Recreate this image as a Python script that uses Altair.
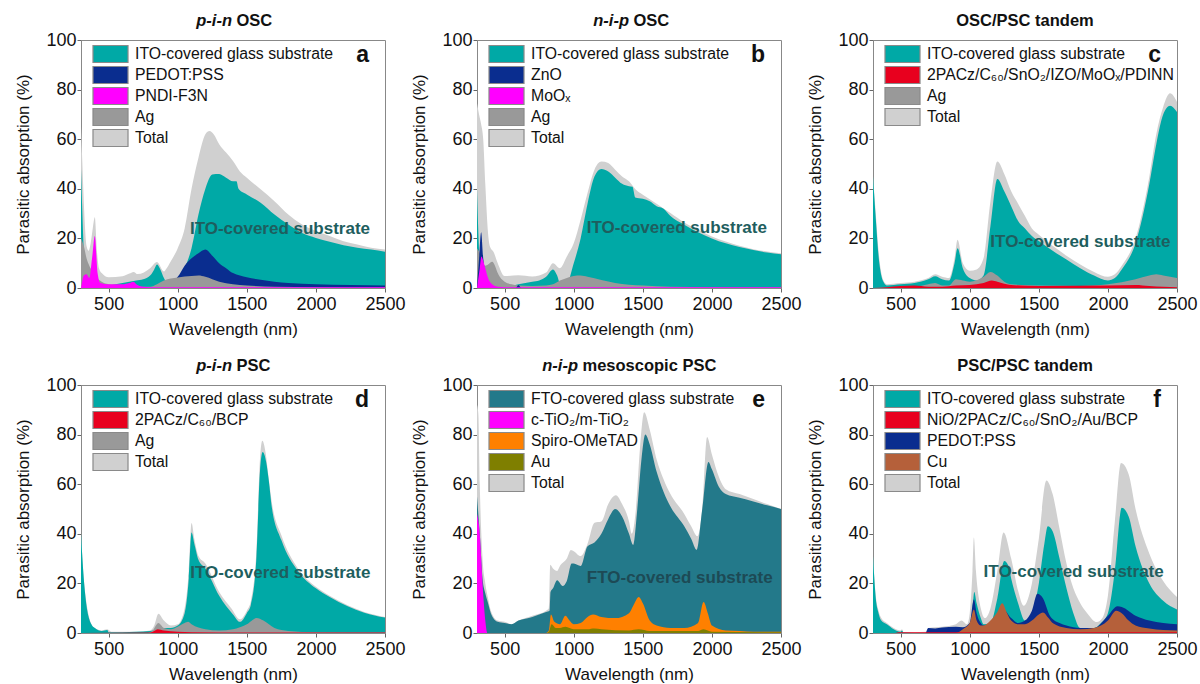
import altair as alt
import pandas as pd

FONT = "Liberation Sans"

# ---------------- data (wavelength nm, parasitic absorption %) ----------------
a_total = [(300,65),(310,50),(320,35),(340,17),(355,15),(370,18),(385,24),(400,28.5),(415,15),(430,8),(450,6),(500,4.3),(600,4.7),(650,5.8),(680,6.5),(710,5.6),(800,8),(850,10.5),(900,6.7),(920,8),(950,10.8),(1000,16),(1050,24),(1100,40),(1150,52.5),(1200,62),(1230,63.3),(1260,62),(1300,58),(1350,54.6),(1400,51.2),(1450,47),(1500,44.5),(1600,39.8),(1700,35),(1800,29.6),(1900,25.6),(2000,23),(2100,21),(2200,18.9),(2300,17.5),(2400,16.2),(2500,15.5)]
a_ito = [(300,48),(310,30),(320,15),(340,3),(360,1),(400,0.5),(500,1),(600,2),(700,3),(750,3.5),(800,5),(830,7.5),(850,9.5),(870,8),(900,4),(930,1.5),(960,1.5),(1000,3),(1050,8),(1100,16),(1150,29.6),(1200,40),(1250,45.8),(1300,46),(1350,44.5),(1400,43),(1425,43),(1440,40),(1500,37.7),(1600,34.4),(1700,29.6),(1800,25.6),(1900,22.2),(2000,20.2),(2100,18.6),(2200,17.2),(2300,16.2),(2400,15.5),(2500,14.6)]
a_pedot = [(300,0),(900,0),(930,1),(950,2),(1000,4.5),(1050,9),(1100,12),(1150,14),(1200,15.5),(1250,13),(1300,10),(1350,8),(1400,6),(1450,5),(1500,4.3),(1600,3.3),(1700,2.5),(1800,2),(2000,1.5),(2500,1.0)]
a_pndi = [(300,0),(310,3),(320,5),(340,5.5),(360,4),(380,12),(400,21),(420,6),(440,2),(500,1.5),(600,1.5),(650,2),(680,2.5),(700,1.5),(750,0.5),(800,0.3),(2500,0.3)]
a_ag = [(300,20),(320,17),(340,12),(360,9),(380,7),(400,5),(450,2.5),(500,1.5),(600,1),(700,0.5),(800,0.5),(850,1.5),(900,3),(1000,4.2),(1100,4.8),(1150,5),(1200,4.5),(1300,2.5),(1400,1.5),(1500,1),(1700,0.5),(2000,0.3),(2500,0.2)]

b_total = [(300,74.5),(315,70),(330,66),(345,60),(360,42),(380,22),(395,16.5),(420,14.5),(450,10),(500,4.8),(600,5.1),(700,4.6),(800,6.2),(850,10),(900,8),(950,12.7),(1000,18),(1050,27.5),(1100,38.3),(1150,47.7),(1200,51),(1250,50.4),(1300,47.7),(1350,45),(1400,43),(1450,39.6),(1500,37.6),(1600,34),(1700,30.2),(1800,26.4),(1900,23.5),(2000,20.8),(2100,18.7),(2200,17),(2300,15.6),(2400,14.7),(2500,14)]
b_ito = [(300,40),(310,22),(320,10),(340,2),(400,0.5),(500,0.5),(600,1.5),(700,2.5),(750,3),(800,4.5),(850,7.5),(880,5),(900,2),(950,2),(1000,10),(1050,20),(1100,34),(1150,45),(1200,48),(1250,47),(1300,44.5),(1350,42),(1400,41),(1425,40.8),(1445,36.5),(1500,36),(1550,35),(1600,33),(1650,32),(1700,29),(1800,25.5),(1900,22.5),(2000,20),(2100,18),(2200,16.5),(2300,15.3),(2400,14.3),(2500,13.6)]
b_zno = [(300,0),(315,12),(330,22.5),(345,12),(360,6),(380,2),(400,0.5),(450,0),(580,0),(600,1.2),(620,0),(2500,0)]
b_moox = [(300,0),(320,8),(332,12.7),(345,11),(360,8),(380,4),(400,2),(450,0.5),(500,0.3),(2500,0.3)]
b_ag = [(300,16),(320,14),(340,10),(360,9),(380,9.5),(410,10.6),(430,9),(450,6),(500,2.5),(550,1.5),(600,1),(700,0.8),(800,1),(850,1.5),(900,3),(950,4),(1000,4.8),(1050,5),(1100,4.5),(1200,3.2),(1300,2),(1400,1.3),(1500,1),(1700,0.5),(2000,0.3),(2500,0.2)]

c_total = [(300,45),(320,30),(340,15),(360,6),(380,2.5),(400,1.5),(500,2),(600,2.5),(700,4),(750,5.5),(800,4.5),(850,4),(890,12),(912,19.5),(950,10),(1000,7),(1050,7.5),(1100,12),(1150,35),(1200,51),(1250,46),(1300,39),(1350,34),(1400,29),(1450,24),(1500,21.5),(1600,17),(1700,13),(1800,9.5),(1900,6.5),(2000,4.5),(2050,5.5),(2100,9),(2200,20),(2300,45),(2350,62),(2400,73),(2450,78.5),(2500,75)]
c_ito = [(300,45),(320,28),(340,13),(360,5),(380,2),(400,1),(500,1.5),(600,2),(700,3.5),(750,4.7),(800,3.5),(850,3),(890,10),(912,16),(950,8),(1000,4),(1050,3),(1100,5),(1150,25),(1200,44),(1250,39),(1300,33),(1350,27),(1400,24),(1450,21),(1500,19),(1600,15),(1700,11.5),(1800,8),(1900,5),(2000,3),(2050,4),(2100,7.5),(2200,18),(2300,42),(2350,58),(2400,70),(2450,73.5),(2500,71)]
c_red = [(300,0),(400,0.3),(500,0.8),(600,1),(700,0.5),(800,0.5),(900,1),(1000,1.2),(1100,2),(1160,3),(1200,2.5),(1300,1.2),(1500,0.8),(2000,1),(2200,1.2),(2300,0.8),(2400,0.5),(2500,0.3)]
c_ag = [(300,0),(600,0.5),(700,1.5),(750,2),(800,1),(850,1),(900,3.5),(950,3),(1000,2.5),(1100,4.5),(1150,6.5),(1200,5),(1250,2.5),(1300,1.5),(1500,1),(1800,0.8),(2000,1.5),(2200,3.5),(2300,5),(2350,5.5),(2400,5),(2500,4)]

d_total = [(300,40),(320,22),(340,12),(360,6),(380,3),(400,2),(450,1),(490,1.5),(520,0.5),(600,0.5),(700,0.5),(800,1),(830,3),(860,7.8),(900,5),(950,3),(1000,3.5),(1050,10),(1080,25),(1100,44.4),(1120,38),(1150,31),(1200,28),(1300,16.5),(1390,9.8),(1450,5.5),(1500,9),(1530,13),(1570,34),(1595,70),(1612,77.5),(1635,73),(1655,64),(1680,53),(1750,39.4),(1870,26),(2000,18.6),(2100,15),(2230,11.2),(2350,8.5),(2500,6.5)]
d_ito = [(300,40),(320,22),(340,11),(360,5.5),(380,3),(400,2),(450,0.8),(490,1.2),(500,0.3),(600,0.3),(700,0.5),(800,0.8),(850,1.5),(900,2),(950,2),(1000,3),(1050,8),(1080,22),(1100,40.5),(1120,36),(1150,29.5),(1200,26),(1300,15),(1400,7.5),(1450,4.5),(1500,8),(1530,11.5),(1570,31),(1595,65),(1615,73),(1640,69),(1660,61),(1680,51),(1750,37.5),(1870,25),(2000,18),(2100,14.5),(2230,10.8),(2350,8.2),(2500,6.2)]
d_red = [(300,0),(800,0.2),(830,0.8),(855,1.5),(900,1),(1000,0.5),(1100,0.3),(1500,0.2),(2500,0.2)]
d_ag = [(300,0),(780,0),(820,1),(860,4),(900,2),(950,1.5),(1000,2.5),(1050,4),(1075,4.5),(1100,3.5),(1200,1.5),(1300,1),(1400,1.5),(1500,3.5),(1570,6),(1620,5),(1700,2),(1800,0.8),(2000,0.3),(2500,0.2)]

e_total = [(300,92),(310,88),(320,60),(340,30),(360,20),(380,14),(400,9),(450,5),(500,4.5),(550,3.5),(600,5),(700,7),(800,9),(820,10),(830,27.5),(850,26),(880,25),(900,27),(950,30),(980,33.5),(1000,33),(1050,31),(1100,36),(1150,44.5),(1200,45),(1250,52),(1305,55.5),(1350,52),(1400,45),(1420,40),(1450,50),(1480,75),(1510,89),(1550,82),(1600,70),(1650,62),(1700,56),(1800,48),(1850,43),(1895,39),(1930,50),(1965,79),(2000,72),(2050,63),(2100,58),(2200,56),(2300,54),(2400,52),(2500,50)]
e_fto = [(300,55),(320,40),(340,22),(360,16),(380,12),(400,8),(450,4.5),(500,4),(550,3.5),(600,5),(700,6.5),(800,8.5),(825,9),(832,16.5),(850,18),(880,21.3),(920,19),(950,21),(985,28),(1000,28),(1050,27),(1100,35),(1150,36.5),(1200,40),(1250,46),(1300,50),(1350,47),(1400,40),(1430,35.5),(1460,50),(1490,70),(1518,80),(1550,76),(1600,65),(1650,57),(1700,51),(1800,43),(1850,38),(1890,33.5),(1930,50),(1975,69),(2000,66),(2050,59),(2100,56),(2200,54.5),(2300,53),(2400,51.5),(2500,50)]
e_tio2 = [(300,48),(320,40),(340,20),(360,5),(375,0),(2500,0)]
e_spiro = [(300,0),(800,0),(820,1),(835,7.5),(860,4.5),(900,3.5),(940,7),(970,5),(1000,3.5),(1050,4),(1100,6.5),(1140,7.5),(1200,6.5),(1300,6),(1400,8),(1440,12),(1470,14.5),(1500,12),(1550,5),(1600,3),(1700,2),(1800,2),(1900,4),(1940,12.5),(1970,8),(2000,3),(2100,1),(2200,0.8),(2300,0.5),(2500,0.5)]
e_au = [(300,0),(800,0),(820,0.5),(840,3.5),(870,2),(900,2),(940,2.5),(1000,1.5),(1100,1.5),(1150,1.8),(1200,1.5),(1400,1),(1470,1.5),(1550,0.8),(1900,0.8),(1940,1.5),(2000,0.5),(2500,0.3)]

f_total = [(300,31),(320,15),(340,9),(360,6),(400,4),(450,2),(500,1),(510,1.5),(520,0.3),(600,0.3),(680,0.5),(700,2),(800,2.5),(900,3.5),(940,5),(980,3.5),(1000,8),(1020,25),(1030,38.5),(1045,25),(1080,10),(1110,6),(1150,10),(1200,25),(1245,40.5),(1300,30),(1350,17),(1390,11),(1450,20),(1500,38),(1555,61.5),(1600,56),(1650,42),(1700,28),(1750,18),(1800,12),(1850,8),(1920,4.4),(1960,6),(2000,15),(2050,45),(2095,68.5),(2150,64),(2200,50),(2300,32),(2400,21),(2500,14.5)]
f_ito = [(300,31),(320,14),(340,8),(360,5),(400,3.5),(450,1.5),(500,0.5),(510,1),(520,0.2),(600,0),(950,0),(1000,2),(1020,10),(1033,16.5),(1050,12),(1080,6),(1100,3.5),(1150,4),(1200,14),(1250,29),(1280,27),(1300,22),(1350,12),(1400,5),(1450,8),(1500,20),(1540,36),(1565,43),(1600,41),(1650,30),(1700,18),(1750,8),(1800,2),(1900,2),(1950,4),(2000,8),(2050,25),(2100,50.5),(2150,47),(2200,35),(2300,20),(2400,13),(2500,9.5)]
f_red = [(300,0),(450,0),(500,0.3),(2500,0.3)]
f_pedot = [(300,0),(680,0),(700,2),(750,1.8),(800,2.2),(900,2.5),(950,2.3),(1000,4),(1030,13.5),(1050,8),(1080,4),(1100,3),(1200,6),(1250,9),(1300,6),(1350,4),(1400,5),(1450,9),(1490,15.8),(1530,14),(1580,7),(1650,4),(1700,3),(1800,2),(1900,2),(2000,7),(2070,10.8),(2100,10.5),(2200,7),(2300,5),(2400,4),(2500,3.5)]
f_cu = [(300,0),(900,0),(950,1.5),(1000,4),(1030,9.5),(1050,5),(1080,3),(1100,3),(1150,5),(1200,8.5),(1235,12),(1270,8),(1300,5),(1350,3.5),(1400,3.5),(1450,5),(1500,7.5),(1530,8.3),(1570,6),(1600,4),(1700,2),(1800,1.5),(1900,2),(2000,5),(2060,9),(2100,8),(2150,5),(2200,3),(2300,1.8),(2400,1.2),(2500,1)]

X_TICKS = [500, 1000, 1500, 2000, 2500]
Y_TICKS = [0, 20, 40, 60, 80, 100]

# ---------------- colours ----------------
C_ITO = "#00a9a6"
C_FTO = "#23798a"
C_PEDOT = "#0a2d8f"
C_MAG = "#ff00ff"
C_AG = "#999999"
C_TOT = "#d0d0d0"
C_RED = "#e8001e"
C_SPIRO = "#ff8000"
C_AU = "#7f7f00"
C_CU = "#b5603a"

W, H = 304, 248

XAXIS = alt.Axis(values=X_TICKS, format="d", grid=False, labelFontSize=18, titleFontSize=17,
                 titleFontWeight="normal", tickSize=4, tickColor="#666", domainColor="#888",
                 labelPadding=3, titlePadding=8, labelColor="#111", titleColor="#111",
                 labelFont=FONT, titleFont=FONT, labelFlush=False)
YAXIS = alt.Axis(values=Y_TICKS, grid=False, labelFontSize=18, titleFontSize=17,
                 titleFontWeight="normal", tickSize=4, tickColor="#666", domainColor="#888",
                 labelPadding=1, titlePadding=13, labelColor="#111", titleColor="#111",
                 labelFont=FONT, titleFont=FONT)


def panel(series, draw, title_parts, letter, annot, annot_pos, annot_color):
    names = [s[0] for s in series]          # legend order
    colors = [s[1] for s in series]
    lookup = {s[0]: s for s in series}
    scale = alt.Scale(domain=names, range=colors)
    legend = alt.Legend(orient="none", legendX=20, legendY=4.5, title=None,
                        symbolType="M-2.06,-1H2.06V1H-2.06Z", symbolSize=289,
                        symbolStrokeColor="#8a8a8a", symbolStrokeWidth=1.2, symbolOpacity=1,
                        labelFontSize=15.8, labelFont=FONT, labelColor="#111",
                        labelOffset=15, rowPadding=-4.3, padding=0, labelLimit=500)
    xenc = alt.X("wl:Q", scale=alt.Scale(domain=[300, 2500], nice=False, zero=False),
                 axis=XAXIS, title="Wavelength (nm)")
    yenc = alt.Y("v:Q", stack=None, scale=alt.Scale(domain=[0, 100], nice=False),
                 axis=YAXIS, title="Parasitic absorption (%)")
    cenc = alt.Color("s:N", scale=scale, legend=legend)
    layers = []
    for idx in draw:                       # back-to-front drawing order
        name, col, pts = series[idx]
        df = pd.DataFrame(pts, columns=["wl", "v"])
        df["s"] = name
        layers.append(
            alt.Chart(df).mark_area(interpolate="monotone", opacity=1, clip=True).encode(
                x=xenc, y=yenc, color=cenc))
    one = alt.Data(values=[{}])
    # title (partly italic)
    if len(title_parts) == 3:
        ital, rest, x0 = title_parts
        layers.append(alt.Chart(one).mark_text(text=ital, font=FONT, fontSize=16.5, fontWeight="bold",
                                               fontStyle="italic", align="right", baseline="middle",
                                               color="#111").encode(x=alt.value(x0), y=alt.value(-19.5)))
        layers.append(alt.Chart(one).mark_text(text=rest, font=FONT, fontSize=16.5, fontWeight="bold",
                                               align="left", baseline="middle",
                                               color="#111").encode(x=alt.value(x0 + 4.5), y=alt.value(-19.5)))
    else:
        layers.append(alt.Chart(one).mark_text(text=title_parts[0], font=FONT, fontSize=16.5, fontWeight="bold",
                                               align="center", baseline="middle",
                                               color="#111").encode(x=alt.value(152), y=alt.value(-19.5)))
    # panel letter
    layers.append(alt.Chart(one).mark_text(text=letter, font=FONT, fontSize=23, fontWeight="bold",
                                           align="right", baseline="alphabetic", color="#111")
                  .encode(x=alt.value(W - 16), y=alt.value(22)))
    # substrate annotation
    adf = pd.DataFrame({"wl": [annot_pos[0]], "v": [annot_pos[1]]})
    layers.append(alt.Chart(adf).mark_text(text=annot, font=FONT, fontSize=17, fontWeight="bold",
                                           align="center", baseline="middle", color=annot_color)
                  .encode(x=xenc, y=yenc))
    return alt.layer(*layers).properties(width=W, height=H)


pa = panel([("ITO-covered glass substrate", C_ITO, a_ito), ("PEDOT:PSS", C_PEDOT, a_pedot),
            ("PNDI-F3N", C_MAG, a_pndi), ("Ag", C_AG, a_ag), ("Total", C_TOT, a_total)],
           [4, 0, 1, 3, 2],
           ("p-i-n", "OSC", 151), "a", "ITO-covered substrate", (1740, 23.9), "#1e5e5e")
pb = panel([("ITO-covered glass substrate", C_ITO, b_ito), ("ZnO", C_PEDOT, b_zno),
            ("MoOₓ", C_MAG, b_moox), ("Ag", C_AG, b_ag), ("Total", C_TOT, b_total)],
           [4, 0, 3, 1, 2],
           ("n-i-p", "OSC", 152), "b", "ITO-covered substrate", (1746, 24.1), "#1e5e5e")
pc = panel([("ITO-covered glass substrate", C_ITO, c_ito), ("2PACz/C₆₀/SnO₂/IZO/MoOₓ/PDINN", C_RED, c_red),
            ("Ag", C_AG, c_ag), ("Total", C_TOT, c_total)],
           [3, 0, 2, 1],
           ("OSC/PSC tandem",), "c", "ITO-covered substrate", (1801, 18.5), "#1e5e5e")
pd_ = panel([("ITO-covered glass substrate", C_ITO, d_ito), ("2PACz/C₆₀/BCP", C_RED, d_red),
             ("Ag", C_AG, d_ag), ("Total", C_TOT, d_total)],
            [3, 0, 2, 1],
            ("p-i-n", "PSC", 151), "d", "ITO-covered substrate", (1742, 24.2), "#1e5e5e")
pe = panel([("FTO-covered glass substrate", C_FTO, e_fto), ("c-TiO₂/m-TiO₂", C_MAG, e_tio2),
            ("Spiro-OMeTAD", C_SPIRO, e_spiro), ("Au", C_AU, e_au), ("Total", C_TOT, e_total)],
           [4, 0, 2, 3, 1],
           ("n-i-p", "mesoscopic PSC", 101), "e", "FTO-covered substrate", (1767, 22.3), "#1d4a55")
pf = panel([("ITO-covered glass substrate", C_ITO, f_ito), ("NiO/2PACz/C₆₀/SnO₂/Au/BCP", C_RED, f_red),
            ("PEDOT:PSS", C_PEDOT, f_pedot), ("Cu", C_CU, f_cu), ("Total", C_TOT, f_total)],
           [4, 0, 2, 3, 1],
           ("PSC/PSC tandem",), "f", "ITO-covered substrate", (1752, 24.4), "#1e5e5e")

chart = alt.concat(pa, pb, pc, pd_, pe, pf, columns=3, spacing={"row": 97, "column": 92},
                   bounds="flush").resolve_scale(color="independent").configure(
    font=FONT, padding={"left": 14, "top": 12, "right": 2, "bottom": 2}, background="white"
).configure_view(stroke="#888", strokeWidth=1)

chart.save("out.html", embed_options={"renderer": "svg", "actions": False})
